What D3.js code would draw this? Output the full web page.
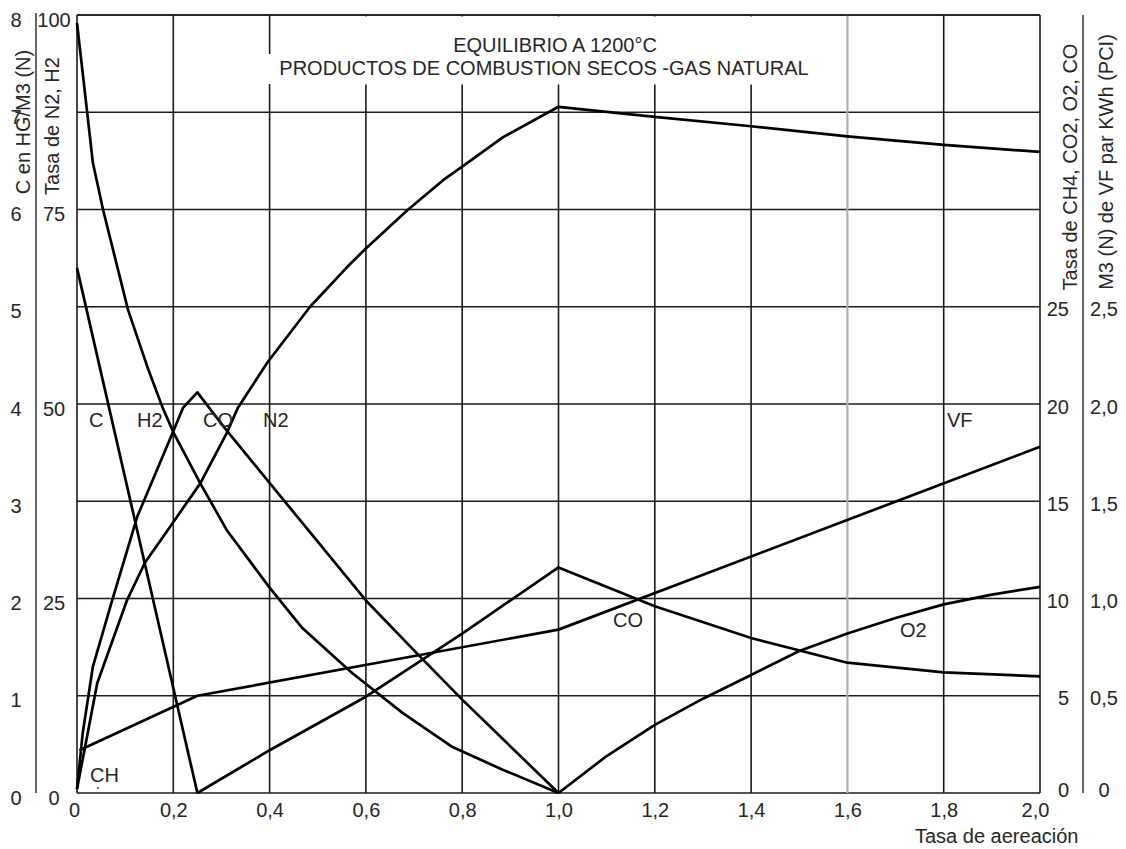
<!DOCTYPE html>
<html>
<head>
<meta charset="utf-8">
<script src="https://cdn.jsdelivr.net/npm/d3@7"></script>
<style>
  html, body { margin: 0; padding: 0; background: #fff; }
  svg { display: block; font-family: "Liberation Sans", Arial, sans-serif; }
  .lbl { font-size: 20px; fill: #262626; }
</style>
</head>
<body>
<svg id="chart" width="1126" height="849"></svg>
<script>
// ---- datos (x = tasa de aereación) ----
const X_TICKS = [0, 0.2, 0.4, 0.6, 0.8, 1.0, 1.2, 1.4, 1.6, 1.8, 2.0];
const C_TICKS = [0, 1, 2, 3, 4, 5, 6, 7, 8];          // C en HG/M3 (N)
const N2_TICKS = [0, 25, 50, 75, 100];                 // Tasa de N2, H2
const GAS_TICKS = [0, 5, 10, 15, 20, 25];              // Tasa de CH4, CO2, O2, CO
const VF_TICKS = [0, 0.5, 1.0, 1.5, 2.0, 2.5];         // M3 (N) de VF par KWh

// eje izquierdo interior (%)
const H2 = [[0, 99], [0.033, 81], [0.054, 75], [0.106, 62.1], [0.146, 54.8], [0.178, 49.5],
  [0.2, 46.4], [0.256, 39.8], [0.312, 33.7], [0.4, 26.4], [0.468, 21.2], [0.572, 15.4],
  [0.676, 10.3], [0.78, 5.9], [0.884, 3.0], [1.0, 0]];
const N2 = [[0, 0.5], [0.042, 14.1], [0.104, 24.8], [0.141, 29.6], [0.193, 34.2], [0.256, 39.8],
  [0.312, 46.4], [0.334, 49.5], [0.395, 55.3], [0.484, 62.5], [0.561, 67.6], [0.6, 70],
  [0.686, 74.9], [0.761, 78.8], [0.8, 80.5], [0.885, 84.3], [1.0, 88.2], [1.2, 86.9],
  [1.4, 85.7], [1.6, 84.4], [1.8, 83.3], [2.0, 82.4]];
// eje izquierdo exterior (HG/M3)
const C = [[0, 5.4], [0.25, 0]];
// eje derecho interior (%)
const CO = [[0, 0.2], [0.012, 3.1], [0.033, 6.5], [0.073, 9.9], [0.125, 14.2], [0.2, 18.6],
  [0.22, 19.8], [0.25, 20.6], [0.312, 18.6], [0.6, 9.9], [0.713, 7.0], [0.8, 4.8], [1.0, 0]];
const CO2 = [[0.25, 0], [0.4, 2.2], [0.6, 4.95], [0.8, 8.2], [1.0, 11.6], [1.2, 9.6],
  [1.4, 7.97], [1.6, 6.7], [1.8, 6.2], [2.0, 6.0]];
const O2 = [[1.0, 0], [1.1, 1.9], [1.2, 3.5], [1.3, 4.85], [1.4, 6.07], [1.5, 7.3],
  [1.6, 8.2], [1.7, 9.0], [1.8, 9.7], [1.9, 10.2], [2.0, 10.6]];
// eje derecho exterior (M3/KWh)
const VF = [[0.005, 0.22], [0.25, 0.5], [1.0, 0.84], [2.0, 1.78]];

const LEFT = 77, RIGHT = 1040, TOP = 15, BOTTOM = 793;

const svg = d3.select('#chart');

const x = d3.scaleLinear().domain([0, 2]).range([LEFT, RIGHT]);
const yC = d3.scaleLinear().domain([0, 8]).range([BOTTOM, TOP]);
const yPct = d3.scaleLinear().domain([0, 100]).range([BOTTOM, TOP]);
const yGas = d3.scaleLinear().domain([0, 40]).range([BOTTOM, TOP]);
const yVF = d3.scaleLinear().domain([0, 4]).range([BOTTOM, TOP]);

const comma = d => d === 0 ? '0' : d3.format('.1f')(d).replace('.', ',');

// cuadrícula
const grid = svg.append('g');
grid.selectAll('line.h')
  .data(C_TICKS)
  .join('line')
  .attr('x1', LEFT).attr('x2', RIGHT)
  .attr('y1', d => yC(d)).attr('y2', d => yC(d))
  .attr('stroke', '#1a1a1a').attr('stroke-width', 1.6);
grid.selectAll('line.v')
  .data(X_TICKS)
  .join('line')
  .attr('x1', d => x(d)).attr('x2', d => x(d))
  .attr('y1', TOP).attr('y2', BOTTOM)
  .attr('stroke', d => Math.abs(d - 1.6) < 1e-9 ? '#b0b0b0' : '#1a1a1a')
  .attr('stroke-width', d => Math.abs(d - 1.6) < 1e-9 ? 2.2 : 1.6);

// fondo blanco del título
svg.append('rect').attr('x', 274).attr('y', TOP + 1.5).attr('width', 548).attr('height', 68).attr('fill', '#fff');
svg.append('rect').attr('x', 264).attr('y', 54).attr('width', 558).attr('height', 30).attr('fill', '#fff');
svg.append('line').attr('x1', LEFT).attr('x2', RIGHT).attr('y1', TOP).attr('y2', TOP)
  .attr('stroke', '#1a1a1a').attr('stroke-width', 1.6);

svg.append('text').attr('class', 'lbl').attr('x', 555).attr('y', 52).attr('text-anchor', 'middle')
  .text('EQUILIBRIO A 1200°C');
svg.append('text').attr('class', 'lbl').attr('x', 544).attr('y', 75).attr('text-anchor', 'middle')
  .text('PRODUCTOS DE COMBUSTION SECOS -GAS NATURAL');

// curvas
const curves = [
  { data: H2, y: yPct },
  { data: N2, y: yPct },
  { data: C, y: yC },
  { data: CO, y: yGas },
  { data: CO2, y: yGas },
  { data: O2, y: yGas },
  { data: VF, y: yVF }
];
curves.forEach(c => {
  const line = d3.line().x(d => x(d[0])).y(d => c.y(d[1]));
  svg.append('path')
    .attr('d', line(c.data))
    .attr('fill', 'none')
    .attr('stroke', '#000')
    .attr('stroke-width', 2.7)
    .attr('stroke-linejoin', 'round');
});

// ejes
function styleAxis(g) {
  g.select('.domain').remove();
  g.selectAll('.tick line').remove();
  g.selectAll('.tick text')
    .attr('class', 'lbl')
    .attr('fill', '#262626')
    .style('font-size', '20px')
    .style('font-family', '"Liberation Sans", Arial, sans-serif');
}

const xAxis = svg.append('g')
  .attr('transform', `translate(0,${BOTTOM})`)
  .call(d3.axisBottom(x).tickValues(X_TICKS).tickFormat(comma).tickSize(0))
  .call(styleAxis);
xAxis.selectAll('.tick text').attr('y', 24).attr('dy', 0)
  .attr('dx', d => d === 2 ? -5 : (d === 0 ? -3 : 0));

svg.append('g')
  .attr('transform', 'translate(16,0)')
  .call(d3.axisLeft(yC).tickValues(C_TICKS).tickFormat(d3.format('d')).tickSize(0))
  .call(styleAxis)
  .selectAll('.tick text').attr('x', 0).attr('dy', 11).attr('text-anchor', 'middle');

svg.append('g')
  .attr('transform', 'translate(54,0)')
  .call(d3.axisLeft(yPct).tickValues(N2_TICKS).tickFormat(d3.format('d')).tickSize(0))
  .call(styleAxis)
  .selectAll('.tick text').attr('x', 0).attr('dy', 11).attr('text-anchor', 'middle');

svg.append('g')
  .attr('transform', 'translate(1069,0)')
  .call(d3.axisRight(yGas).tickValues(GAS_TICKS).tickFormat(d3.format('d')).tickSize(0))
  .call(styleAxis)
  .selectAll('.tick text').attr('x', 0).attr('dy', d => d === 0 ? 3 : 9).attr('text-anchor', 'end');

svg.append('g')
  .attr('transform', 'translate(1104,0)')
  .call(d3.axisRight(yVF).tickValues(VF_TICKS).tickFormat(comma).tickSize(0))
  .call(styleAxis)
  .selectAll('.tick text').attr('x', 0).attr('dy', d => d === 0 ? 3 : 9).attr('text-anchor', 'middle');

// líneas de los ejes exteriores
svg.append('line').attr('x1', 36).attr('x2', 36).attr('y1', TOP - 2).attr('y2', BOTTOM)
  .attr('stroke', '#333').attr('stroke-width', 1.5);
svg.append('line').attr('x1', 1083).attr('x2', 1083).attr('y1', TOP).attr('y2', BOTTOM)
  .attr('stroke', '#333').attr('stroke-width', 1.5);

// títulos de ejes
function vtext(xb, yc, s) {
  svg.append('text').attr('class', 'lbl')
    .attr('transform', `translate(${xb},${yc}) rotate(-90)`)
    .attr('text-anchor', 'middle')
    .text(s);
}
vtext(30, 122, 'C en HG/M3 (N)');
vtext(59, 126, 'Tasa de N2, H2');
vtext(1077, 167, 'Tasa de CH4, CO2, O2, CO');
vtext(1113, 162, 'M3 (N) de VF par KWh (PCI)');

svg.append('text').attr('class', 'lbl').attr('x', 915).attr('y', 843).text('Tasa de aereación');

// rótulos de curvas
const labels = [
  ['C', 89, 427], ['H2', 137, 427], ['CO', 203, 427], ['N2', 263, 427],
  ['VF', 947, 427], ['CO', 613, 627], ['O2', 900, 637], ['CH', 90, 782]
];
labels.forEach(([t, lx, ly]) => {
  svg.append('text').attr('class', 'lbl').attr('x', lx).attr('y', ly).text(t);
});
svg.append('circle').attr('cx', 98).attr('cy', 788).attr('r', 1).attr('fill', '#444');
</script>
</body>
</html>
